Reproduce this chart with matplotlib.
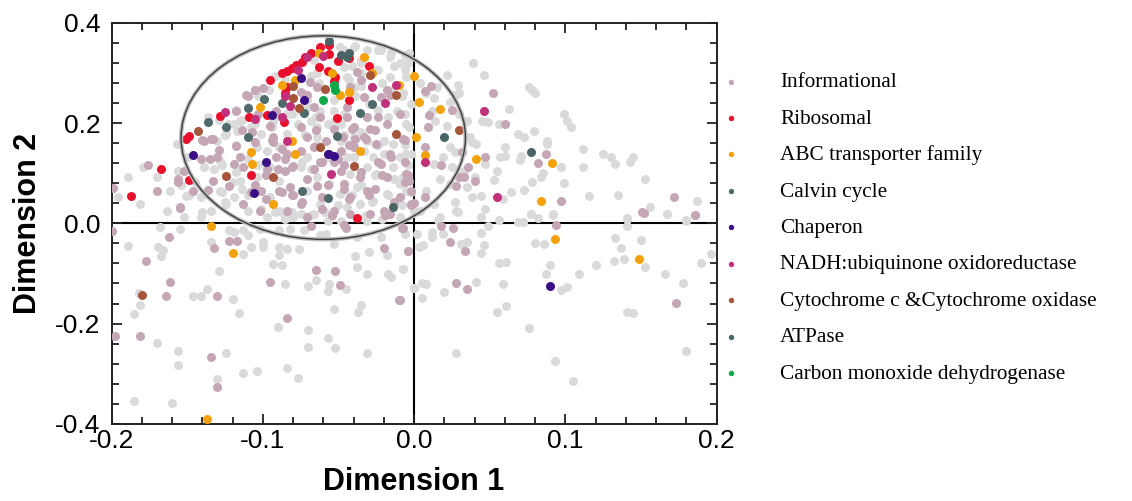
import numpy as np
import matplotlib
matplotlib.use('Agg')
from matplotlib import pyplot as plt
from matplotlib import font_manager
from matplotlib.patches import Ellipse
from matplotlib.ticker import MultipleLocator, FormatStrFormatter

# values (Dimension 1, Dimension 2)
other = [
    (-0.189, 0.092), (-0.179, 0.112), (-0.196, 0.052), (-0.181, 0.039), (-0.163, 0.025),
    (-0.170, 0.092), (-0.156, 0.105), (-0.161, 0.065), (-0.151, 0.055), (-0.141, 0.052),
    (-0.134, 0.025), (-0.124, 0.039), (-0.152, 0.012), (-0.141, 0.012), (-0.157, 0.159),
    (-0.150, 0.132), (-0.139, 0.112), (-0.128, 0.125), (-0.130, 0.165), (-0.124, 0.179),
    (-0.117, 0.185), (-0.119, 0.199), (-0.115, 0.205), (-0.108, 0.192), (-0.101, 0.179),
    (-0.104, 0.152), (-0.097, 0.145), (-0.089, 0.152), (-0.084, 0.179), (-0.077, 0.199),
    (-0.068, 0.205), (-0.064, 0.192), (-0.057, 0.199), (-0.053, 0.225), (-0.048, 0.199),
    (-0.064, 0.172), (-0.062, 0.225), (-0.075, 0.225), (-0.071, 0.245), (-0.053, 0.245),
    (-0.044, 0.292), (-0.040, 0.272), (-0.035, 0.319), (-0.031, 0.345), (-0.040, 0.352),
    (-0.049, 0.352), (-0.046, 0.312), (-0.064, 0.299), (-0.066, 0.325), (-0.025, 0.305),
    (-0.022, 0.345), (-0.016, 0.292), (-0.009, 0.319), (-0.005, 0.292), (-0.003, 0.339),
    (-0.016, 0.332), (-0.007, 0.259), (-0.002, 0.239), (-0.011, 0.225), (-0.005, 0.199),
    (-0.014, 0.159), (-0.009, 0.132), (-0.002, 0.139), (-0.020, 0.165), (-0.020, 0.139),
    (-0.027, 0.132), (-0.031, 0.112), (-0.033, 0.145), (-0.025, 0.099), (-0.014, 0.112),
    (-0.009, 0.079), (-0.005, 0.065), (-0.018, 0.059), (-0.027, 0.045), (-0.036, 0.039),
    (-0.044, 0.032), (-0.049, 0.059), (-0.056, 0.079), (-0.064, 0.092), (-0.071, 0.065),
    (-0.075, 0.112), (-0.071, 0.132), (-0.044, 0.132), (-0.042, 0.099), (-0.038, 0.072),
    (-0.062, 0.039), (-0.066, 0.019), (-0.080, 0.012), (-0.089, 0.025), (-0.095, 0.052),
    (-0.089, 0.085), (-0.095, 0.112), (-0.104, 0.092), (-0.115, 0.085), (-0.119, 0.052),
    (-0.128, 0.065), (-0.110, 0.025), (-0.097, 0.012), (-0.057, 0.005), (-0.048, 0.005),
    (-0.031, 0.005), (-0.009, 0.012), (0.000, 0.025), (-0.084, 0.219), (-0.093, 0.205),
    (-0.048, 0.165), (-0.040, 0.172), (-0.031, 0.165), (-0.057, 0.132), (-0.040, 0.132),
    (-0.046, 0.346), (-0.039, 0.353), (-0.035, 0.326), (-0.024, 0.346), (-0.015, 0.339),
    (-0.006, 0.336), (-0.041, 0.313), (-0.035, 0.299), (-0.024, 0.306), (-0.013, 0.313),
    (-0.006, 0.306), (-0.021, 0.279), (-0.015, 0.263), (-0.008, 0.253), (-0.035, 0.273),
    (-0.039, 0.253), (-0.030, 0.239), (-0.024, 0.226), (-0.017, 0.213), (-0.006, 0.219),
    (-0.046, 0.219), (-0.052, 0.206), (-0.065, 0.213), (-0.070, 0.233), (-0.063, 0.279),
    (-0.068, 0.293), (-0.043, 0.286), (-0.092, 0.293), (-0.085, 0.286), (-0.096, 0.266),
    (-0.103, 0.253), (-0.110, 0.233), (-0.118, 0.226), (-0.114, 0.206), (-0.105, 0.199),
    (-0.092, 0.213), (-0.081, 0.219), (-0.094, 0.193), (-0.123, 0.199), (-0.129, 0.206),
    (-0.136, 0.213), (-0.072, 0.176), (-0.065, 0.156), (-0.074, 0.123), (-0.068, 0.109),
    (-0.046, 0.176), (-0.035, 0.183), (-0.024, 0.156), (-0.017, 0.136), (-0.006, 0.156),
    (-0.004, 0.116), (-0.013, 0.089), (-0.026, 0.096), (-0.035, 0.076), (-0.041, 0.056),
    (-0.050, 0.036), (-0.059, 0.023), (-0.068, 0.016), (-0.028, 0.043), (-0.017, 0.056),
    (-0.008, 0.036), (-0.002, 0.063), (-0.021, 0.009), (-0.032, 0.016), (-0.125, 0.176),
    (-0.118, 0.156), (-0.127, 0.116), (-0.132, 0.109), (-0.118, 0.103), (-0.120, 0.083),
    (-0.114, 0.069), (-0.110, 0.056), (-0.127, 0.063), (-0.125, 0.043), (-0.140, 0.023),
    (-0.149, 0.056), (-0.154, 0.076), (-0.145, 0.083), (-0.101, 0.029), (-0.092, 0.023),
    (-0.085, 0.009), (-0.081, 0.023), (-0.103, 0.116), (-0.110, 0.129),
    (0.039, 0.319), (0.022, 0.295), (0.046, 0.295), (0.029, 0.275), (0.030, 0.259),
    (0.015, 0.272), (0.078, 0.265), (0.080, 0.260), (0.076, 0.271), (0.063, 0.229),
    (0.045, 0.205), (0.049, 0.202), (0.056, 0.199), (0.099, 0.219), (0.101, 0.205),
    (0.104, 0.192), (0.069, 0.179), (0.073, 0.172), (0.079, 0.184), (0.088, 0.165),
    (0.088, 0.159), (0.060, 0.152), (0.057, 0.132), (0.060, 0.135), (0.071, 0.135),
    (0.070, 0.127), (0.112, 0.149), (0.125, 0.139), (0.130, 0.132), (0.133, 0.119),
    (0.145, 0.132), (0.143, 0.122), (0.112, 0.113), (0.097, 0.112), (0.099, 0.081),
    (0.085, 0.101), (0.084, 0.092), (0.078, 0.083), (0.073, 0.067), (0.064, 0.062),
    (0.059, 0.049), (0.053, 0.087), (0.055, 0.105), (0.047, 0.119), (0.040, 0.092),
    (0.044, 0.055), (0.038, 0.052), (0.027, 0.042), (0.028, 0.025), (0.047, 0.029),
    (0.077, 0.019), (0.092, 0.017), (0.116, 0.055), (0.135, 0.057), (0.153, 0.089),
    (0.156, 0.032), (0.167, 0.019), (0.141, 0.009), (0.180, 0.007), (0.187, 0.044),
    (0.024, 0.152), (0.027, 0.142), (0.019, 0.132), (0.013, 0.119), (0.025, 0.112),
    (0.033, 0.105), (0.035, 0.072), (0.024, 0.079), (0.017, 0.089), (0.008, 0.065),
    (0.013, 0.039), (0.004, 0.025), (0.017, 0.012), (0.041, 0.159), (0.037, 0.172),
    (0.038, 0.162), (0.035, 0.205), (0.030, 0.219), (0.022, 0.195), (0.014, 0.205),
    (0.012, 0.225), (0.008, 0.259), (0.004, 0.279), (0.013, 0.249), (0.024, 0.242),
    (0.027, 0.255), (-0.004, 0.319), (-0.003, 0.192), (-0.005, 0.139), (-0.007, 0.092),
    (-0.189, -0.045), (-0.168, -0.007), (-0.155, -0.012), (-0.169, -0.047), (-0.166, -0.053),
    (-0.167, -0.066), (-0.182, -0.139), (-0.181, -0.163), (-0.185, -0.181), (-0.170, -0.238),
    (-0.156, -0.254), (-0.156, -0.283), (-0.146, -0.145), (-0.141, -0.145), (-0.137, -0.131),
    (-0.134, -0.037), (-0.129, -0.096), (-0.120, -0.151), (-0.116, -0.179), (-0.124, -0.259),
    (-0.130, -0.311), (-0.113, -0.299), (-0.104, -0.294), (-0.185, -0.355), (-0.160, -0.359),
    (-0.122, -0.014), (-0.119, -0.017), (-0.113, -0.014), (-0.110, -0.024), (-0.113, -0.061),
    (-0.108, -0.047), (-0.100, -0.037), (-0.100, -0.047), (-0.093, -0.081), (-0.089, -0.047),
    (-0.089, -0.064), (-0.087, -0.084), (-0.084, -0.051), (-0.076, -0.051), (-0.085, -0.122),
    (-0.090, -0.207), (-0.084, -0.289), (-0.077, -0.309), (-0.070, -0.213), (-0.070, -0.246),
    (-0.070, -0.126), (-0.065, -0.114), (-0.056, -0.121), (-0.057, -0.135), (-0.057, -0.229),
    (-0.053, -0.171), (-0.052, -0.249), (-0.045, -0.131), (-0.039, -0.066), (-0.038, -0.087),
    (-0.035, -0.162), (-0.037, -0.177), (-0.031, -0.102), (-0.031, -0.259), (-0.030, -0.057),
    (-0.018, -0.064), (-0.017, -0.101), (-0.015, -0.107), (-0.007, -0.091), (0.000, -0.129),
    (-0.053, -0.041), (-0.062, -0.024), (-0.073, -0.014), (-0.082, -0.011), (-0.089, -0.014),
    (-0.102, -0.011), (-0.022, -0.027), (-0.038, -0.027), (-0.058, -0.021), (-0.075, 0.019),
    (-0.086, 0.019),
    (-0.006, -0.021), (0.002, -0.021), (0.006, -0.044), (0.003, -0.047), (0.012, -0.017),
    (0.012, -0.027), (0.019, -0.021), (0.031, -0.041), (0.035, -0.037), (0.044, -0.019),
    (0.046, -0.044), (0.044, -0.059), (0.049, -0.006), (0.056, 0.006), (0.056, -0.079),
    (0.061, -0.077), (0.069, 0.003), (0.072, 0.003), (0.077, 0.019), (0.082, 0.011),
    (0.092, 0.018), (0.080, -0.039), (0.086, -0.042), (0.090, -0.084), (0.087, -0.102),
    (0.097, -0.133), (0.101, -0.127), (0.109, -0.102), (0.120, -0.083), (0.132, -0.076),
    (0.139, -0.072), (0.133, -0.029), (0.137, -0.049), (0.141, 0.011), (0.141, -0.006),
    (0.150, -0.034), (0.153, -0.087), (0.166, -0.102), (0.167, 0.018), (0.178, -0.119),
    (0.180, 0.005), (0.190, -0.079), (0.196, -0.061), (0.005, -0.119), (0.008, -0.121),
    (0.000, -0.129), (0.005, -0.149), (0.020, -0.137), (0.041, -0.117), (0.059, -0.121),
    (0.055, -0.176), (0.061, -0.164), (0.076, -0.209), (0.141, -0.176), (0.145, -0.179),
    (0.028, -0.259), (0.093, -0.275), (0.105, -0.314), (0.180, -0.254), (-0.007, -0.091),
    (0.044, 0.013), (0.029, 0.023), (0.016, 0.006),
]

informational = [
    (-0.199, 0.070), (-0.176, 0.117), (-0.170, 0.065), (-0.156, 0.082), (-0.155, 0.031),
    (-0.133, 0.084), (-0.141, 0.129), (-0.139, 0.165), (-0.133, 0.169), (-0.118, 0.155),
    (-0.115, 0.132), (-0.113, 0.112), (-0.119, 0.119), (-0.130, 0.132), (-0.118, 0.225),
    (-0.110, 0.253), (-0.105, 0.265), (-0.100, 0.269), (-0.103, 0.219), (-0.095, 0.195),
    (-0.093, 0.162), (-0.091, 0.132), (-0.097, 0.109), (-0.101, 0.065), (-0.089, 0.065),
    (-0.093, 0.172), (-0.082, 0.072), (-0.080, 0.057), (-0.075, 0.039), (-0.071, 0.089),
    (-0.066, 0.109), (-0.064, 0.075), (-0.061, 0.052), (-0.053, 0.122), (-0.048, 0.105),
    (-0.046, 0.079), (-0.042, 0.052), (-0.036, 0.092), (-0.031, 0.065), (-0.022, 0.119),
    (-0.018, 0.092), (-0.020, 0.025), (-0.009, 0.052), (-0.005, 0.099), (-0.002, 0.039),
    (-0.007, 0.169), (-0.016, 0.139), (-0.025, 0.159), (-0.033, 0.172), (-0.040, 0.192),
    (-0.044, 0.213), (-0.047, 0.172), (-0.040, 0.152), (-0.029, 0.189), (-0.024, 0.212),
    (-0.018, 0.199), (-0.009, 0.219), (-0.016, 0.255), (-0.022, 0.252), (-0.018, 0.265),
    (-0.035, 0.285), (-0.038, 0.302), (-0.064, 0.272), (-0.069, 0.282), (-0.071, 0.255),
    (-0.066, 0.232), (-0.062, 0.212), (-0.075, 0.192), (-0.071, 0.172), (-0.066, 0.152),
    (-0.075, 0.145), (-0.084, 0.139), (-0.080, 0.115), (-0.085, 0.105), (-0.062, 0.122),
    (-0.053, 0.189), (-0.058, 0.165), (-0.048, 0.145), (-0.075, 0.262), (-0.091, 0.225),
    (-0.044, 0.232), (-0.033, 0.252), (-0.031, 0.212), (-0.042, 0.272), (-0.029, 0.019),
    (-0.016, 0.019), (-0.071, 0.012), (-0.053, 0.025), (-0.042, 0.019), (-0.108, 0.062),
    (-0.122, 0.075), (-0.084, 0.025), (-0.102, 0.025), (-0.113, 0.039), (-0.152, 0.105),
    (-0.146, 0.065), (-0.111, 0.256), (-0.105, 0.266),
    (-0.065, 0.186), (-0.041, 0.189), (-0.026, 0.186), (-0.039, 0.169), (-0.032, 0.169),
    (-0.043, 0.156), (-0.050, 0.129), (-0.061, 0.123), (-0.046, 0.116), (-0.024, 0.123),
    (-0.015, 0.133), (-0.006, 0.123), (-0.021, 0.096), (-0.035, 0.103), (-0.057, 0.076),
    (-0.046, 0.069), (-0.026, 0.069), (-0.006, 0.083), (-0.074, 0.043), (-0.061, 0.029),
    (-0.043, 0.049), (-0.030, 0.056), (-0.013, 0.043), (-0.019, 0.016), (-0.054, 0.016),
    (-0.046, -0.004), (-0.002, 0.036),
    (-0.140, 0.166), (-0.134, 0.169), (-0.135, 0.129), (-0.129, 0.146), (-0.114, 0.186),
    (-0.107, 0.183), (-0.105, 0.163), (-0.094, 0.166), (-0.087, 0.149), (-0.085, 0.129),
    (-0.090, 0.109), (-0.081, 0.113), (-0.098, 0.096), (-0.105, 0.076), (-0.098, 0.049),
    (-0.087, 0.063), (-0.081, 0.056), (-0.156, 0.089), (-0.155, 0.033), (-0.136, 0.066),
    (0.011, 0.273), (0.007, 0.263), (0.052, 0.260), (0.025, 0.227), (0.010, 0.217),
    (0.009, 0.193), (0.060, 0.199), (-0.006, 0.167), (0.007, 0.152), (0.032, 0.142),
    (0.047, 0.133), (0.087, 0.139), (0.082, 0.120), (0.018, 0.117), (0.036, 0.112),
    (0.030, 0.093), (0.033, 0.093), (0.040, 0.084), (-0.003, 0.085), (-0.004, 0.097),
    (-0.002, 0.065), (0.007, 0.052), (0.000, 0.040), (0.097, 0.045), (0.172, 0.052),
    (0.151, 0.022), (0.186, 0.017), (0.028, 0.075),
    (-0.200, -0.015), (-0.162, -0.027), (-0.177, -0.075), (-0.161, -0.118), (-0.164, -0.145),
    (-0.130, -0.145), (-0.132, -0.049), (-0.122, -0.035), (-0.117, -0.035), (-0.198, -0.225),
    (-0.181, -0.225), (-0.134, -0.267), (-0.130, -0.327), (-0.095, -0.118), (-0.084, -0.189),
    (-0.068, -0.006), (-0.065, -0.093), (-0.052, -0.096), (-0.049, -0.123), (-0.054, 0.016),
    (-0.045, -0.009), (-0.020, -0.049), (-0.019, 0.018), (-0.008, -0.009), (-0.004, -0.056),
    (-0.010, -0.152),
    (-0.007, -0.009), (0.018, -0.006), (0.026, -0.009), (0.024, -0.037), (0.034, -0.055),
    (-0.004, -0.055), (-0.009, -0.153), (0.028, -0.119), (0.035, -0.131), (0.094, -0.004),
    (0.152, 0.021), (0.186, 0.017), (0.173, -0.159),
]

ribosomal = [
    (-0.187, 0.055), (-0.167, 0.108), (-0.149, 0.087), (-0.151, 0.169), (-0.149, 0.174),
    (-0.128, 0.215), (-0.109, 0.212), (-0.108, 0.097), (-0.097, 0.217), (-0.086, 0.202),
    (-0.095, 0.285), (-0.087, 0.299), (-0.084, 0.303), (-0.081, 0.309), (-0.078, 0.315),
    (-0.074, 0.322), (-0.072, 0.332), (-0.068, 0.340), (-0.062, 0.352), (-0.056, 0.355),
    (-0.056, 0.337), (-0.050, 0.323), (-0.043, 0.329), (-0.030, 0.313), (-0.063, 0.311),
    (-0.057, 0.304), (-0.052, 0.292), (-0.053, 0.284), (-0.084, 0.271), (-0.085, 0.260),
    (-0.043, 0.245), (-0.051, 0.210), (-0.038, 0.011),
]

abc = [
    (-0.108, 0.143), (-0.107, 0.119), (-0.093, 0.039), (-0.081, 0.165), (-0.079, 0.139),
    (-0.102, 0.233), (-0.087, 0.275), (-0.079, 0.285), (-0.054, 0.299), (-0.063, 0.340),
    (-0.049, 0.255), (-0.043, 0.262), (-0.033, 0.332), (-0.028, 0.299), (-0.010, 0.275),
    (-0.036, 0.144), (0.000, 0.294), (0.001, 0.172), (0.003, 0.242), (0.017, 0.229),
    (0.007, 0.137), (0.041, 0.129), (0.091, 0.120), (0.084, 0.045), (0.093, -0.031),
    (0.149, -0.071), (-0.120, -0.059), (-0.137, -0.391), (-0.134, -0.005),
]

calvin = [
    (-0.136, 0.202), (-0.124, 0.193), (-0.110, 0.231), (-0.110, 0.172), (-0.099, 0.247),
    (-0.087, 0.240), (-0.073, 0.220), (-0.051, 0.175), (-0.056, 0.139), (-0.036, 0.220),
    (-0.028, 0.239), (-0.074, 0.065), (-0.057, 0.050),
]

chaperon = [
    (-0.146, 0.137), (-0.106, 0.061), (-0.098, 0.122), (-0.094, 0.217), (-0.075, 0.289),
    (-0.073, 0.245), (-0.057, 0.139), (-0.053, 0.135), (0.090, -0.125),
]

nadh = [
    (-0.125, 0.223), (-0.105, 0.209), (-0.087, 0.213), (-0.084, 0.165), (-0.082, 0.235),
    (-0.085, 0.253), (-0.071, 0.332), (-0.060, 0.334), (-0.077, 0.305), (-0.028, 0.271),
    (-0.019, 0.240), (-0.012, 0.275), (-0.055, 0.099), (0.007, 0.123), (0.046, 0.225),
    (0.055, 0.052),
]

cytochrome = [
    (-0.143, 0.185), (-0.124, 0.095), (-0.093, 0.093), (-0.080, 0.273), (-0.080, 0.249),
    (-0.076, 0.231), (-0.059, 0.267), (-0.062, 0.153), (-0.040, 0.114), (-0.029, 0.295),
    (-0.012, 0.179), (-0.012, 0.255), (0.030, 0.187), (-0.180, -0.143),
]

atpase = [
    (-0.056, 0.363), (-0.048, 0.335), (-0.043, 0.340), (-0.044, 0.332), (0.020, 0.172),
    (0.077, 0.142), (-0.014, 0.033),
]

carbon_monoxide = [(-0.060, 0.245), (-0.053, 0.275), (-0.052, 0.265)]

groups = [
    ('Informational', informational, '#C4A6B6'),
    ('Ribosomal', ribosomal, '#E8102C'),
    ('ABC transporter family', abc, '#F4A20A'),
    ('Calvin cycle', calvin, '#4E6A6B'),
    ('Chaperon', chaperon, '#3A0E85'),
    ('NADH:ubiquinone oxidoreductase', nadh, '#C2307C'),
    ('Cytochrome c &Cytochrome oxidase', cytochrome, '#A5553A'),
    ('ATPase', atpase, '#4A6465'),
    ('Carbon monoxide dehydrogenase', carbon_monoxide, '#0DA84A'),
]

names = {f.name for f in font_manager.fontManager.ttflist}
sans = 'Liberation Sans Narrow' if 'Liberation Sans Narrow' in names else 'Liberation Sans'
plt.rcParams['axes.unicode_minus'] = False

fig = plt.figure(figsize=(11.32, 5.01), dpi=100)
ax = fig.add_axes([0.0985, 0.154, 0.5345, 0.8005])

pts = np.array(other)
ax.scatter(pts[:, 0], pts[:, 1], s=42, color='#DADADA', linewidths=0, zorder=2)
handles = []
for name, data, col in groups:
    pts = np.array(data)
    h = ax.scatter(pts[:, 0], pts[:, 1], s=42, color=col, linewidths=0, zorder=3, label=name)
    handles.append(h)

# ellipse around the cluster (soft shadow + dark line)
ax.add_patch(Ellipse((-0.060, 0.171), 0.188, 0.406, fill=False, ec='#BDBDBD', lw=3, zorder=4))
ax.add_patch(Ellipse((-0.060, 0.171), 0.188, 0.406, fill=False, ec='#3C3C3C', lw=1.0, zorder=5))

ax.axhline(0, color='black', lw=1.5, zorder=1)
ax.axvline(0, color='black', lw=1.5, zorder=1)

ax.set_xlim(-0.2, 0.2)
ax.set_ylim(-0.4, 0.4)
ax.xaxis.set_major_locator(MultipleLocator(0.1))
ax.xaxis.set_minor_locator(MultipleLocator(0.02))
ax.yaxis.set_major_locator(MultipleLocator(0.2))
ax.yaxis.set_minor_locator(MultipleLocator(0.04))
ax.xaxis.set_major_formatter(FormatStrFormatter('%.1f'))
ax.yaxis.set_major_formatter(FormatStrFormatter('%.1f'))
ax.tick_params(which='both', direction='in', top=True, right=True, width=1.3, color='#222222')
ax.tick_params(which='major', length=7, labelsize=19)
ax.tick_params(which='minor', length=5)
ax.tick_params(axis='x', which='major', pad=4)
ax.tick_params(axis='y', which='major', pad=8)
for lab in ax.get_xticklabels() + ax.get_yticklabels():
    lab.set_family(sans)
for sp in ax.spines.values():
    sp.set_linewidth(1.4)
    sp.set_color('#222222')

ax.set_xlabel('Dimension 1', fontsize=22, fontweight='bold', family='Liberation Sans', labelpad=10)
ax.set_ylabel('Dimension 2', fontsize=22, fontweight='bold', family='Liberation Sans', labelpad=9)

fig.legend(handles=handles, loc='upper left', bbox_to_anchor=(0.631, 0.877), frameon=False,
           markerscale=0.6, handlelength=0.6, handletextpad=2.0, labelspacing=0.78,
           borderpad=0, prop={'family': 'Liberation Serif', 'size': 15.3})

fig.savefig('out.png', dpi=100)
